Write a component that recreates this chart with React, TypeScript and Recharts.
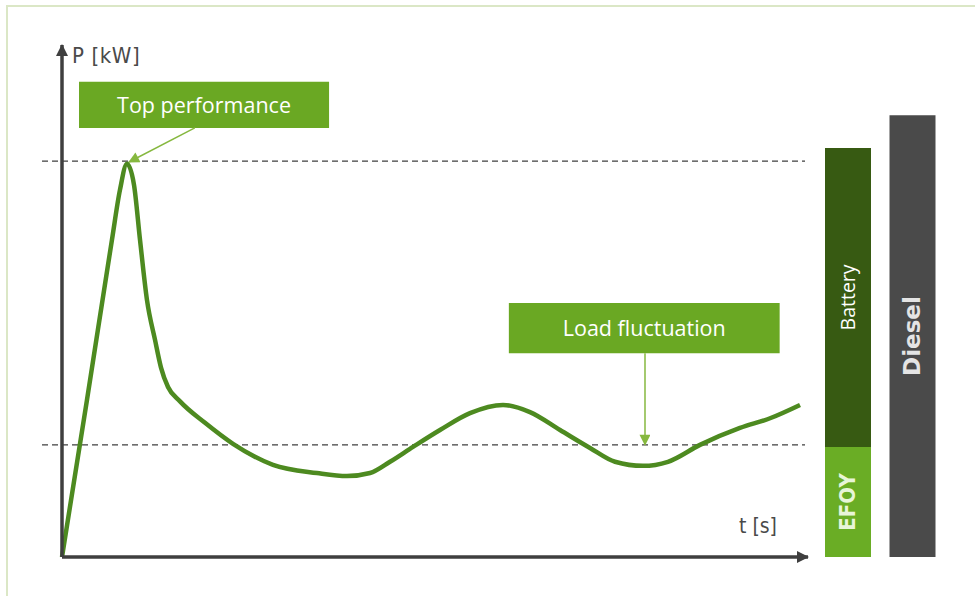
import React from 'react';
import {
  ComposedChart, Line, XAxis, YAxis, ReferenceLine, ReferenceArea, Label,
  BarChart, Bar, LabelList,
} from 'recharts';

// ---- data ----
const timeS = [0, 3.35, 6.7, 7.77, 8.71, 9.65, 10.46, 11.39, 12.47, 13.27, 14.21, 15.82, 19.17, 22.92, 28.28, 34.18, 38.2, 41.29, 43.97, 47.05, 50.67, 54.69, 59.12, 62.73, 66.76, 70.78, 74.13, 77.88, 81.23, 85.52, 90.88, 94.91, 98.93];
const powerKW = [0, 30.7, 62.0, 71.7, 76.8, 72.7, 61.9, 50.2, 42.4, 37.0, 33.2, 30.4, 26.2, 22.1, 18.0, 16.4, 15.8, 16.4, 18.6, 21.5, 24.8, 28.1, 29.7, 28.3, 24.8, 21.3, 18.6, 17.8, 18.6, 21.9, 25.2, 27.1, 29.7];

const topLevel = 77.3;
const baseLevel = 21.9;

const barCategories = ['Hybrid', 'Diesel'];
const efoyValues = [21.5, 0];
const batteryValues = [58.4, 0];
const dieselValues = [0, 86.3];
const efoyLabels = ['EFOY', ''];
const batteryLabels = ['Battery', ''];
const dieselLabels = ['', 'Diesel'];

const annotationTop = 'Top performance';
const annotationLoad = 'Load fluctuation';

const lineData = timeS.map((t, i) => ({ t, p: powerKW[i] }));
const barData = barCategories.map((c, i) => ({
  cat: c,
  efoy: efoyValues[i],
  battery: batteryValues[i],
  diesel: dieselValues[i],
  efoyLabel: efoyLabels[i],
  batteryLabel: batteryLabels[i],
  dieselLabel: dieselLabels[i],
}));

const vLabel = (style: any) => (props: any) => {
  const { x, y, width, height, value } = props;
  if (!value) return null;
  const cx = Number(x) + Number(width) / 2;
  const cy = Number(y) + Number(height) / 2;
  return (
    <text
      x={cx}
      y={cy}
      transform={`rotate(-90 ${cx} ${cy})`}
      textAnchor="middle"
      dominantBaseline="central"
      {...style}
    >
      {value}
    </text>
  );
};

export default function App() {
  return (
    <div style={{ position: 'absolute', left: 0, top: 0, width: 975, height: 596, background: '#fff', overflow: 'hidden' }}>
      <svg width={0} height={0} style={{ position: 'absolute' }}>
        <defs>
          <marker id="axisArrow" viewBox="0 0 12 12" refX={11} refY={6} markerWidth={13} markerHeight={12} markerUnits="userSpaceOnUse" orient="auto-start-reverse">
            <path d="M0,0 L12,6 L0,12 z" fill="#3f3f3f" />
          </marker>
          <marker id="greenArrow" viewBox="0 0 12 12" refX={11} refY={6} markerWidth={12} markerHeight={11} markerUnits="userSpaceOnUse" orient="auto-start-reverse">
            <path d="M0,0 L12,6 L0,12 z" fill="#86b83f" />
          </marker>
        </defs>
      </svg>
      <div style={{ position: 'absolute', left: 6, top: 5, width: 1000, height: 700, borderLeft: '2px solid #dbe7c6', borderTop: '2px solid #dbe7c6' }} />

      <div style={{ position: 'absolute', left: 0, top: 0 }}>
        <ComposedChart width={975} height={596} data={lineData} margin={{ top: 45, right: 167, bottom: 37, left: 60 }}>
          <XAxis
            dataKey="t"
            type="number"
            domain={[0, 100]}
            height={2}
            tick={false}
            tickLine={false}
            axisLine={{ stroke: '#3f3f3f', strokeWidth: 3.5, markerEnd: 'url(#axisArrow)' } as any}
          />
          <YAxis
            type="number"
            domain={[0, 100]}
            width={2}
            tick={false}
            tickLine={false}
            axisLine={{ stroke: '#3f3f3f', strokeWidth: 3.5, markerStart: 'url(#axisArrow)' } as any}
          />
          <ReferenceLine
            segment={[{ x: -2.68, y: topLevel }, { x: 99.6, y: topLevel }]}
            stroke="#3f3f3f"
            strokeWidth={1.3}
            strokeDasharray="6 4"
            ifOverflow="visible"
          />
          <ReferenceLine
            segment={[{ x: -2.68, y: baseLevel }, { x: 99.6, y: baseLevel }]}
            stroke="#3f3f3f"
            strokeWidth={1.3}
            strokeDasharray="6 4"
            ifOverflow="visible"
          />
          <ReferenceArea x1={2.28} x2={35.8} y1={83.8} y2={92.8} fill="#6aa823" fillOpacity={1} stroke="none" ifOverflow="visible">
            <Label value={annotationTop} position="center" fill="#ffffff" fontSize={21.5} fontFamily="'Open Sans', sans-serif" />
          </ReferenceArea>
          <ReferenceArea x1={59.9} x2={96.2} y1={39.8} y2={49.6} fill="#6aa823" fillOpacity={1} stroke="none" ifOverflow="visible">
            <Label value={annotationLoad} position="center" fill="#ffffff" fontSize={21.5} fontFamily="'Open Sans', sans-serif" />
          </ReferenceArea>
          <ReferenceLine
            segment={[{ x: 17.8, y: 83.8 }, { x: 8.98, y: 77.15 }]}
            stroke="#86b83f"
            strokeWidth={1.5}
            ifOverflow="visible"
            markerEnd="url(#greenArrow)"
          />
          <ReferenceLine
            segment={[{ x: 78.15, y: 39.8 }, { x: 78.15, y: 21.9 }]}
            stroke="#86b83f"
            strokeWidth={1.5}
            ifOverflow="visible"
            markerEnd="url(#greenArrow)"
          />
          <Line
            dataKey="p"
            type="monotone"
            stroke="#4d8a20"
            strokeWidth={4.5}
            dot={false}
            activeDot={false}
            isAnimationActive={false}
          />
        </ComposedChart>
      </div>

      <div style={{ position: 'absolute', left: 0, top: 0 }}>
        <BarChart width={975} height={596} data={barData} margin={{ top: 45, right: 30, bottom: 39, left: 816 }} barCategoryGap={0}>
          <XAxis dataKey="cat" hide />
          <YAxis type="number" domain={[0, 100]} hide />
          <Bar dataKey="efoy" stackId="s" fill="#6aad25" barSize={46} isAnimationActive={false}>
            <LabelList dataKey="efoyLabel" content={vLabel({ fill: '#e8f5d8', fontSize: 22, fontWeight: 'bold', fontFamily: "'Liberation Sans Narrow', 'DejaVu Sans Condensed', sans-serif" })} />
          </Bar>
          <Bar dataKey="battery" stackId="s" fill="#375a12" barSize={46} isAnimationActive={false}>
            <LabelList dataKey="batteryLabel" content={vLabel({ fill: '#ffffff', fontSize: 19.5, fontFamily: "'Open Sans', sans-serif" })} />
          </Bar>
          <Bar dataKey="diesel" stackId="s" fill="#4a4a4a" barSize={46} isAnimationActive={false}>
            <LabelList dataKey="dieselLabel" content={vLabel({ fill: '#e4e4e4', fontSize: 23, fontWeight: 'bold', fontFamily: "'DejaVu Sans', sans-serif" })} />
          </Bar>
        </BarChart>
      </div>

      <div style={{ position: 'absolute', left: 72, top: 43, fontSize: 22, letterSpacing: 0.6, color: '#4a4a4a', fontFamily: "'Liberation Sans Narrow', 'DejaVu Sans Condensed', sans-serif" }}>P [kW]</div>
      <div style={{ position: 'absolute', left: 739, top: 514, fontSize: 21, color: '#4a4a4a', fontFamily: "'Liberation Sans Narrow', 'DejaVu Sans Condensed', sans-serif" }}>t [s]</div>
    </div>
  );
}
